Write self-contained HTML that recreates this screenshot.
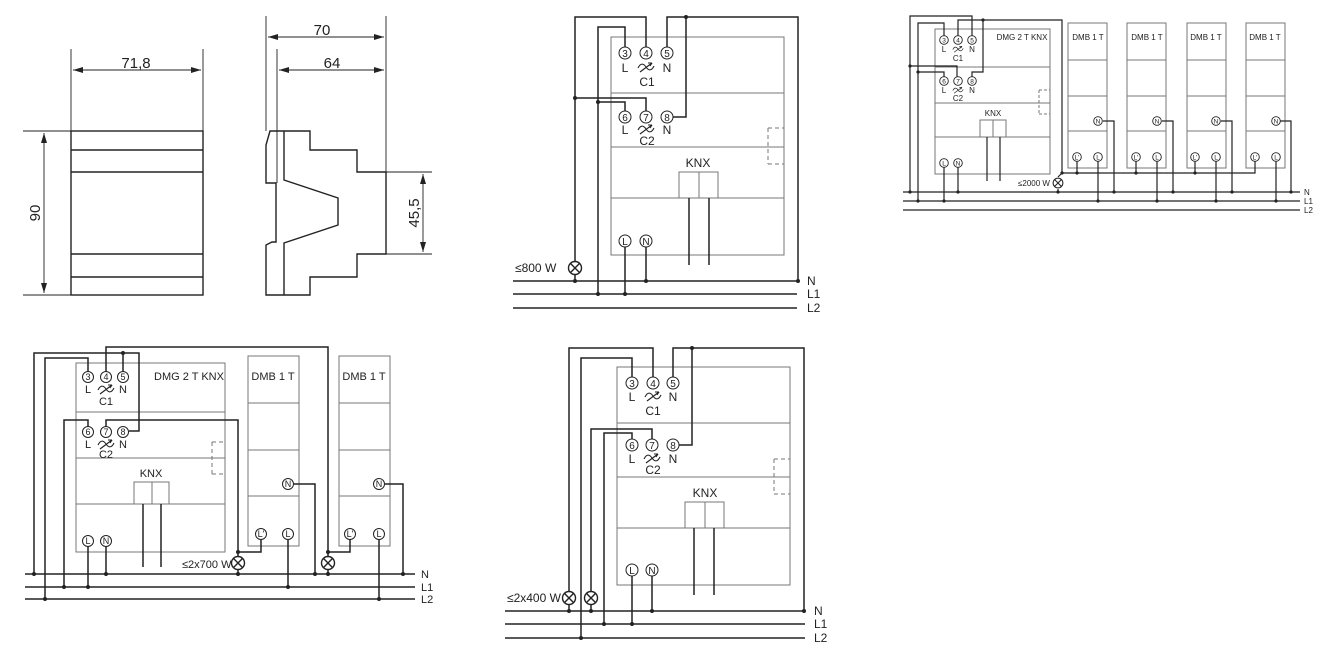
<!DOCTYPE html>
<html><head><meta charset="utf-8"><style>
html,body{margin:0;padding:0;background:#fff;}
svg{display:block;}
text{font-family:"Liberation Sans",sans-serif;fill:#222;}
</style></head><body>
<svg width="1339" height="650" viewBox="0 0 1339 650" xmlns="http://www.w3.org/2000/svg">
<defs>
<g id="wv" fill="none" stroke="#222" stroke-width="1.1">
<path d="M-8,1 C-5,-5 -2,-3 0,0 S5,5 8,-1"/>
<path d="M-6,5 L6,-4"/><path d="M6,-4 L2,-4 M6,-4 L4,-1"/>
</g>
<g id="lamp" fill="#fff" stroke="#222" stroke-width="1.4">
<circle r="6.5"/><path d="M-4.6,-4.6 L4.6,4.6 M-4.6,4.6 L4.6,-4.6"/>
</g>
</defs>

<!-- ===== Dimension drawings ===== -->
<g stroke="#222" fill="none" stroke-width="1.4">
<rect x="71" y="131" width="132" height="164"/>
<path d="M71,150H203 M71,172H203 M71,254H203 M71,277H203"/>
</g>
<g stroke="#222" fill="none" stroke-width="0.9">
<path d="M71,49V131 M203,49V131 M73,70H201 M23,131H71 M23,295H71 M44,133V293"/>
<path d="M266,16V131 M277,49V183 M386,16V172 M268,37H384 M279,70H384 M386,172H432 M386,254H432 M423,174V252"/>
</g>
<g fill="#222">
<path d="M73,70l10,-3v6z M201,70l-10,-3v6z M44,133l-3,10h6z M44,293l-3,-10h6z"/>
<path d="M268,37l10,-3v6z M384,37l-10,-3v6z M279,70l10,-3v6z M384,70l-10,-3v6z M423,174l-3,10h6z M423,252l-3,-10h6z"/>
</g>
<text x="136" y="68" font-size="15" text-anchor="middle">71,8</text>
<text x="322" y="35" font-size="15" text-anchor="middle">70</text>
<text x="332" y="68" font-size="15" text-anchor="middle">64</text>
<text transform="translate(40,213) rotate(-90)" font-size="15" text-anchor="middle">90</text>
<text transform="translate(419,213) rotate(-90)" font-size="15" text-anchor="middle">45,5</text>
<g stroke="#222" fill="none" stroke-width="1.4">
<path d="M270,131 L310,131 L310,150 L357,150 L357,172 L386,172 L386,254 L357,254 L357,277 L310,277 L310,295 L266,295 L266,245 L272,242 L276,242 L276,183 L266,183 L266,145 Z"/>
<path d="M284,131V180 L338,198 V225 L284,243 V295"/>
</g>

<!-- ===== Diagram 1 (top middle) ===== -->
<g stroke="#777" fill="none" stroke-width="1">
<rect x="611" y="37" width="173" height="218"/>
<path d="M611,93H784 M611,147H784 M611,198H784"/>
<rect x="679" y="172" width="39" height="26"/><path d="M699,172V198"/>
<path d="M768,128H784 M768,164H784 M768,128V164" stroke-dasharray="4,3"/>
</g>
<g stroke="#222" fill="none" stroke-width="1.5">
<path d="M689,198V265 M709,198V265"/>
<path d="M513,281H797 M513,294H797 M513,308H797"/>
<path d="M575,261V17H646V47 M575,98H646V111 M598,294V27H625V47 M598,102H625V111 M667,47V17H798V281 M686,17V117H673 M625,247V294 M646,247V281 M575,275V281"/>
</g>
<g fill="#222"><circle cx="575" cy="98" r="2"/><circle cx="598" cy="102" r="2"/><circle cx="686" cy="17" r="2"/><circle cx="798" cy="281" r="2"/><circle cx="575" cy="281" r="2"/><circle cx="598" cy="294" r="2"/><circle cx="625" cy="294" r="2"/><circle cx="646" cy="281" r="2"/></g>
<use href="#lamp" x="575" y="268"/>
<g fill="#fff" stroke="#222" stroke-width="1"><circle cx="625" cy="53" r="6"/><circle cx="646" cy="53" r="6"/><circle cx="667" cy="53" r="6"/><circle cx="625" cy="117" r="6"/><circle cx="646" cy="117" r="6"/><circle cx="667" cy="117" r="6"/><circle cx="625" cy="241" r="6"/><circle cx="646" cy="241" r="6"/></g>
<g font-size="10" text-anchor="middle"><text x="625" y="57">3</text><text x="646" y="57">4</text><text x="667" y="57">5</text><text x="625" y="121">6</text><text x="646" y="121">7</text><text x="667" y="121">8</text><text x="625" y="245">L</text><text x="646" y="245">N</text></g>
<g font-size="12" text-anchor="middle"><text x="625" y="72">L</text><text x="667" y="72">N</text><text x="647" y="86">C1</text><text x="625" y="134">L</text><text x="667" y="134">N</text><text x="647" y="145">C2</text><text x="698" y="167">KNX</text></g>
<use href="#wv" x="646" y="67"/><use href="#wv" x="646" y="129"/>
<g font-size="12"><text x="515" y="272">≤800 W</text><text x="807" y="285">N</text><text x="807" y="298">L1</text><text x="807" y="312">L2</text></g>

<!-- ===== Diagram 5 (bottom middle) ===== -->
<g stroke="#777" fill="none" stroke-width="1">
<rect x="617" y="367" width="173" height="218"/>
<path d="M617,423H790 M617,477H790 M617,528H790"/>
<rect x="685" y="502" width="39" height="26"/><path d="M705,502V528"/>
<path d="M774,459H790 M774,494H790 M774,459V494" stroke-dasharray="4,3"/>
</g>
<g stroke="#222" fill="none" stroke-width="1.5">
<path d="M694,528V595 M714,528V595"/>
<path d="M505,611H805 M505,624H805 M505,638H805"/>
<path d="M569,591V348H653V377 M591,591V429H652V439 M581,638V358H632V377 M604,624V433H632V439 M673,377V348H804V611 M692,348V445H679 M632,576V624 M652,576V611 M569,605V611 M591,605V611"/>
</g>
<g fill="#222"><circle cx="692" cy="348" r="2"/><circle cx="804" cy="611" r="2"/><circle cx="569" cy="611" r="2"/><circle cx="591" cy="611" r="2"/><circle cx="652" cy="611" r="2"/><circle cx="604" cy="624" r="2"/><circle cx="632" cy="624" r="2"/><circle cx="581" cy="638" r="2"/></g>
<use href="#lamp" x="569" y="598"/><use href="#lamp" x="591" y="598"/>
<g fill="#fff" stroke="#222" stroke-width="1"><circle cx="632" cy="383" r="6"/><circle cx="653" cy="383" r="6"/><circle cx="673" cy="383" r="6"/><circle cx="632" cy="445" r="6"/><circle cx="652" cy="445" r="6"/><circle cx="673" cy="445" r="6"/><circle cx="632" cy="570" r="6"/><circle cx="652" cy="570" r="6"/></g>
<g font-size="10" text-anchor="middle"><text x="632" y="387">3</text><text x="653" y="387">4</text><text x="673" y="387">5</text><text x="632" y="449">6</text><text x="652" y="449">7</text><text x="673" y="449">8</text><text x="632" y="574">L</text><text x="652" y="574">N</text></g>
<g font-size="12" text-anchor="middle"><text x="632" y="401">L</text><text x="673" y="401">N</text><text x="653" y="415">C1</text><text x="632" y="463">L</text><text x="673" y="463">N</text><text x="653" y="474">C2</text><text x="705" y="497">KNX</text></g>
<use href="#wv" x="653" y="396"/><use href="#wv" x="652" y="458"/>
<g font-size="12"><text x="507" y="602">≤2x400 W</text><text x="814" y="615">N</text><text x="814" y="628">L1</text><text x="814" y="642">L2</text></g>

<!-- ===== Diagram 4 (bottom left) ===== -->
<g stroke="#777" fill="none" stroke-width="1">
<rect x="76" y="363" width="149" height="189"/>
<path d="M76,412H225 M76,458H225 M76,504H225"/>
<rect x="134" y="482" width="35" height="22"/><path d="M152,482V504"/>
<path d="M212,442H225 M212,474H225 M212,442V474" stroke-dasharray="4,3"/>
<rect x="248" y="356" width="51" height="190"/><path d="M248,403H299 M248,450H299 M248,496H299"/>
<rect x="339" y="356" width="51" height="190"/><path d="M339,403H390 M339,450H390 M339,496H390"/>
</g>
<g stroke="#222" fill="none" stroke-width="1.5">
<path d="M143,504V567 M161,504V567"/>
<path d="M25,574H415 M25,587H415 M25,599H415"/>
<path d="M34,574V353H139V431H129 M123,353V372 M45,599V358H88V372 M64,587V420H88V427 M106,372V347H328V557 M106,427V420H238V557 M238,552H261V539 M328,552H350V539 M238,570V574 M328,570V574 M294,484H315V574 M385,484H403V574 M288,539V587 M379,539V599 M88,546V587 M106,546V574"/>
</g>
<g fill="#222"><circle cx="123" cy="353" r="2"/><circle cx="34" cy="574" r="2"/><circle cx="45" cy="599" r="2"/><circle cx="64" cy="587" r="2"/><circle cx="238" cy="552" r="2"/><circle cx="328" cy="552" r="2"/><circle cx="238" cy="574" r="2"/><circle cx="328" cy="574" r="2"/><circle cx="315" cy="574" r="2"/><circle cx="403" cy="574" r="2"/><circle cx="288" cy="587" r="2"/><circle cx="379" cy="599" r="2"/><circle cx="88" cy="587" r="2"/><circle cx="106" cy="574" r="2"/></g>
<use href="#lamp" x="238" y="563"/><use href="#lamp" x="328" y="563"/>
<g fill="#fff" stroke="#222" stroke-width="1"><circle cx="88" cy="377" r="5.5"/><circle cx="106" cy="377" r="5.5"/><circle cx="123" cy="377" r="5.5"/><circle cx="88" cy="432" r="5.5"/><circle cx="106" cy="432" r="5.5"/><circle cx="123" cy="432" r="5.5"/><circle cx="88" cy="541" r="5.5"/><circle cx="106" cy="541" r="5.5"/><circle cx="288" cy="484" r="5.5"/><circle cx="261" cy="534" r="5.5"/><circle cx="288" cy="534" r="5.5"/><circle cx="379" cy="484" r="5.5"/><circle cx="350" cy="534" r="5.5"/><circle cx="379" cy="534" r="5.5"/></g>
<g font-size="9" text-anchor="middle"><text x="88" y="380">3</text><text x="106" y="380">4</text><text x="123" y="380">5</text><text x="88" y="435">6</text><text x="106" y="435">7</text><text x="123" y="435">8</text><text x="88" y="544">L</text><text x="106" y="544">N</text><text x="288" y="487">N</text><text x="261" y="537">L'</text><text x="288" y="537">L</text><text x="379" y="487">N</text><text x="350" y="537">L'</text><text x="379" y="537">L</text></g>
<g font-size="11" text-anchor="middle"><text x="88" y="393">L</text><text x="123" y="393">N</text><text x="106" y="405">C1</text><text x="88" y="448">L</text><text x="123" y="448">N</text><text x="106" y="458">C2</text><text x="151" y="477">KNX</text><text x="189" y="380">DMG 2 T KNX</text><text x="273" y="380">DMB 1 T</text><text x="364" y="380">DMB 1 T</text></g>
<use href="#wv" x="106" y="389"/><use href="#wv" x="106" y="444"/>
<g font-size="11"><text x="182" y="568">≤2x700 W</text><text x="421" y="578">N</text><text x="421" y="591">L1</text><text x="421" y="603">L2</text></g>

<!-- ===== Diagram 3 (top right) ===== -->
<g stroke="#777" fill="none" stroke-width="1">
<rect x="935" y="29" width="115" height="145"/>
<path d="M935,67H1050 M935,103H1050 M935,137H1050"/>
<rect x="980" y="120" width="26" height="17"/><path d="M993,120V137"/>
<path d="M1039,90H1050 M1039,114H1050 M1039,90V114" stroke-dasharray="3,2"/>
<rect x="1068" y="23" width="39" height="145"/><path d="M1068,60H1107 M1068,96H1107 M1068,131H1107"/>
<rect x="1127" y="23" width="39" height="145"/><path d="M1127,60H1166 M1127,96H1166 M1127,131H1166"/>
<rect x="1187" y="23" width="39" height="145"/><path d="M1187,60H1226 M1187,96H1226 M1187,131H1226"/>
<rect x="1246" y="23" width="39" height="145"/><path d="M1246,60H1285 M1246,96H1285 M1246,131H1285"/>
</g>
<g stroke="#222" fill="none" stroke-width="1.2">
<path d="M987,137V181 M1000,137V181"/>
<path d="M903,192H1300 M903,201H1300 M903,210H1300"/>
<path d="M910,192V16H972V36 M918,201V23H944V36 M958,36V20H1062V173H1255V161 M983,20V72H972V77 M910,66H957V77 M918,72H944V77 M1062,173L1058,177 M1058,189V192 M1098,173V161 M1157,173V161 M1216,173V161 M1103,121H1114V192 M1162,121H1173V192 M1221,121H1232V192 M1280,121H1291V192 M1098,161V201 M1157,161V201 M1216,161V201 M1276,161V201 M944,167V201 M958,167V192"/>
<path d="M1077,161V173 M1136,161V173 M1195,161V173"/>
</g>
<g fill="#222"><circle cx="910" cy="66" r="1.6"/><circle cx="918" cy="72" r="1.6"/><circle cx="983" cy="20" r="1.6"/><circle cx="910" cy="192" r="1.6"/><circle cx="918" cy="201" r="1.6"/><circle cx="944" cy="201" r="1.6"/><circle cx="958" cy="192" r="1.6"/><circle cx="1062" cy="173" r="1.6"/><circle cx="1058" cy="192" r="1.6"/><circle cx="1114" cy="192" r="1.6"/><circle cx="1173" cy="192" r="1.6"/><circle cx="1232" cy="192" r="1.6"/><circle cx="1291" cy="192" r="1.6"/><circle cx="1098" cy="201" r="1.6"/><circle cx="1157" cy="201" r="1.6"/><circle cx="1216" cy="201" r="1.6"/><circle cx="1276" cy="201" r="1.6"/><circle cx="1077" cy="173" r="1.6"/><circle cx="1136" cy="173" r="1.6"/><circle cx="1195" cy="173" r="1.6"/></g>
<g transform="translate(1058,183) scale(0.75)"><use href="#lamp"/></g>
<g fill="#fff" stroke="#222" stroke-width="0.9"><circle cx="944" cy="40" r="4.3"/><circle cx="958" cy="40" r="4.3"/><circle cx="972" cy="40" r="4.3"/><circle cx="944" cy="81" r="4.3"/><circle cx="958" cy="81" r="4.3"/><circle cx="972" cy="81" r="4.3"/><circle cx="944" cy="163" r="4.3"/><circle cx="958" cy="163" r="4.3"/>
<circle cx="1098" cy="121" r="4.3"/><circle cx="1077" cy="157" r="4.3"/><circle cx="1098" cy="157" r="4.3"/>
<circle cx="1157" cy="121" r="4.3"/><circle cx="1136" cy="157" r="4.3"/><circle cx="1157" cy="157" r="4.3"/>
<circle cx="1216" cy="121" r="4.3"/><circle cx="1195" cy="157" r="4.3"/><circle cx="1216" cy="157" r="4.3"/>
<circle cx="1276" cy="121" r="4.3"/><circle cx="1255" cy="157" r="4.3"/><circle cx="1276" cy="157" r="4.3"/></g>
<g font-size="6.5" text-anchor="middle"><text x="944" y="42.5">3</text><text x="958" y="42.5">4</text><text x="972" y="42.5">5</text><text x="944" y="83.5">6</text><text x="958" y="83.5">7</text><text x="972" y="83.5">8</text><text x="944" y="165.5">L</text><text x="958" y="165.5">N</text>
<text x="1098" y="123.5">N</text><text x="1077" y="159.5">L'</text><text x="1098" y="159.5">L</text>
<text x="1157" y="123.5">N</text><text x="1136" y="159.5">L'</text><text x="1157" y="159.5">L</text>
<text x="1216" y="123.5">N</text><text x="1195" y="159.5">L'</text><text x="1216" y="159.5">L</text>
<text x="1276" y="123.5">N</text><text x="1255" y="159.5">L'</text><text x="1276" y="159.5">L</text></g>
<g font-size="8" text-anchor="middle"><text x="944" y="52">L</text><text x="972" y="52">N</text><text x="958" y="61">C1</text><text x="944" y="93">L</text><text x="972" y="93">N</text><text x="958" y="101">C2</text><text x="993" y="116">KNX</text><text x="1022" y="40">DMG 2 T KNX</text><text x="1088" y="40">DMB 1 T</text><text x="1147" y="40">DMB 1 T</text><text x="1206" y="40">DMB 1 T</text><text x="1265" y="40">DMB 1 T</text></g>
<g transform="translate(958,49) scale(0.65)"><use href="#wv"/></g>
<g transform="translate(958,90) scale(0.65)"><use href="#wv"/></g>
<g font-size="8"><text x="1018" y="186">≤2000 W</text><text x="1304" y="195">N</text><text x="1304" y="204">L1</text><text x="1304" y="213">L2</text></g>
</svg>
</body></html>
